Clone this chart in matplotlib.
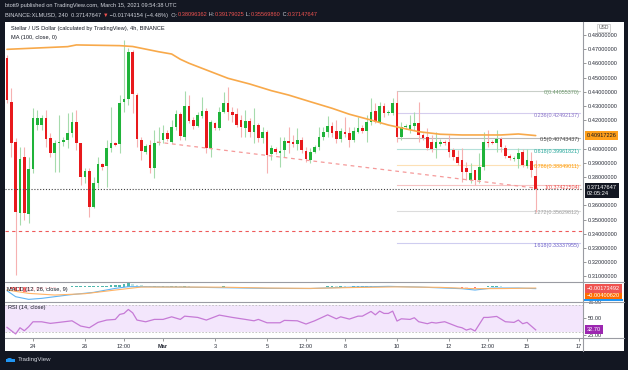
import numpy as np
import pandas as pd
import matplotlib
matplotlib.use('Agg')
import matplotlib.pyplot as plt
import matplotlib.dates as mdates
import matplotlib.transforms as mtransforms
from matplotlib.patches import Rectangle, Circle
from matplotlib.lines import Line2D
from matplotlib.ticker import FormatStrFormatter, FixedLocator

# ---------------- data ----------------
candle_start = '2021-02-23 00:00'
candle_freq = '4h'

opens = [0.4636, 0.4331, 0.4049, 0.3549, 0.3939, 0.3540, 0.3854, 0.4166, 0.4166, 0.4213,
         0.4072, 0.3967, 0.4037, 0.4044, 0.4061, 0.4108, 0.4190, 0.4037, 0.3798, 0.3842,
         0.3591, 0.3755, 0.3892, 0.3877, 0.4002, 0.4037, 0.4032, 0.4326, 0.4349, 0.4678,
         0.4378, 0.4061, 0.3978, 0.4025, 0.3861, 0.4037, 0.4061, 0.4112, 0.4049, 0.4150,
         0.4244, 0.4084, 0.4300, 0.4201, 0.4159, 0.4230, 0.4267, 0.4002, 0.4178, 0.4143,
         0.4260, 0.4324, 0.4260, 0.4241, 0.4201, 0.4143, 0.4197, 0.4119, 0.4164, 0.4072,
         0.4119, 0.3960, 0.3995, 0.3971, 0.3990, 0.4056, 0.4049, 0.4032, 0.4061, 0.3986,
         0.3920, 0.3978, 0.4009, 0.4079, 0.4119, 0.4162, 0.4124, 0.4068, 0.4119, 0.4108,
         0.4061, 0.4119, 0.4143, 0.4126, 0.4185, 0.4265, 0.4190, 0.4300, 0.4248, 0.4248,
         0.4319, 0.4079, 0.4150, 0.4131, 0.4162, 0.4178, 0.4096, 0.4084, 0.4049, 0.4002,
         0.4032, 0.4049, 0.4049, 0.3990, 0.3943, 0.3920, 0.3861, 0.3779, 0.3849, 0.3779,
         0.3868, 0.4049, 0.4049, 0.4042, 0.4065, 0.4002, 0.3948, 0.3925, 0.3925, 0.3978,
         0.3880, 0.3915, 0.38096362]
highs = [0.4660, 0.4424, 0.4072, 0.4014, 0.4014, 0.3943, 0.4284, 0.4272, 0.4237, 0.4272,
         0.4108, 0.4061, 0.4237, 0.4085, 0.4248, 0.4260, 0.4272, 0.4037, 0.3861, 0.3861,
         0.3802, 0.3943, 0.3900, 0.4061, 0.4291, 0.4045, 0.4378, 0.4765, 0.4707, 0.4694,
         0.4389, 0.4084, 0.4030, 0.4061, 0.4131, 0.4155, 0.4166, 0.4131, 0.4202, 0.4272,
         0.4260, 0.4406, 0.4378, 0.4225, 0.4260, 0.4366, 0.4285, 0.4201, 0.4190, 0.4295,
         0.4401, 0.4432, 0.4295, 0.4284, 0.4237, 0.4272, 0.4213, 0.4284, 0.4178, 0.4155,
         0.4131, 0.4025, 0.4010, 0.4084, 0.4084, 0.4155, 0.4096, 0.4143, 0.4084, 0.4014,
         0.4002, 0.4025, 0.4155, 0.4155, 0.4230, 0.4190, 0.4201, 0.4143, 0.4225, 0.4155,
         0.4155, 0.4225, 0.4166, 0.4237, 0.4354, 0.4319, 0.4330, 0.4319, 0.4270, 0.4354,
         0.4406, 0.4190, 0.4170, 0.4237, 0.4260, 0.4330, 0.4110, 0.4143, 0.4096, 0.4119,
         0.4065, 0.4060, 0.4096, 0.4002, 0.3990, 0.4002, 0.3908, 0.3896, 0.3849, 0.3967,
         0.4119, 0.4131, 0.4060, 0.4131, 0.4084, 0.4025, 0.3960, 0.3950, 0.4002, 0.3995,
         0.3995, 0.3978, 0.39179025]
lows = [0.4320, 0.3943, 0.3110, 0.3462, 0.3497, 0.3479, 0.3826, 0.4131, 0.4131, 0.4014,
        0.3943, 0.3838, 0.3838, 0.4020, 0.4002, 0.4084, 0.3990, 0.3744, 0.3755, 0.3521,
        0.3579, 0.3720, 0.3850, 0.3732, 0.3978, 0.4015, 0.3967, 0.4260, 0.4307, 0.4249,
        0.4014, 0.3920, 0.3960, 0.3826, 0.3791, 0.4025, 0.4037, 0.4050, 0.4037, 0.4131,
        0.4061, 0.4061, 0.4178, 0.4140, 0.4150, 0.4213, 0.3967, 0.3943, 0.4130, 0.4131,
        0.4248, 0.4201, 0.4190, 0.4155, 0.4084, 0.4084, 0.4084, 0.4037, 0.4049, 0.4037,
        0.3826, 0.3920, 0.3960, 0.3873, 0.3943, 0.3967, 0.4014, 0.3990, 0.3967, 0.3908,
        0.3896, 0.3967, 0.3990, 0.4061, 0.4084, 0.4084, 0.4037, 0.4049, 0.4084, 0.4014,
        0.4049, 0.4108, 0.4108, 0.4049, 0.4166, 0.4178, 0.4170, 0.4225, 0.4235, 0.4237,
        0.4049, 0.4061, 0.4140, 0.4108, 0.4131, 0.4049, 0.4060, 0.3990, 0.3978, 0.3932,
        0.4020, 0.4025, 0.3943, 0.3920, 0.3885, 0.3767, 0.3779, 0.3756, 0.3742, 0.3756,
        0.3849, 0.4014, 0.4030, 0.3978, 0.3978, 0.3932, 0.3920, 0.3915, 0.3861, 0.3873,
        0.3861, 0.3802, 0.35569860]
closes = [0.4342, 0.4037, 0.3556, 0.3924, 0.3544, 0.3854, 0.4218, 0.4213, 0.4213, 0.4065,
          0.3971, 0.4042, 0.4049, 0.4061, 0.4108, 0.4190, 0.4037, 0.3798, 0.3842, 0.3591,
          0.3755, 0.3892, 0.3868, 0.4002, 0.4037, 0.4025, 0.4324, 0.4349, 0.4683, 0.4385,
          0.4065, 0.3986, 0.4018, 0.3861, 0.4042, 0.4049, 0.4112, 0.4065, 0.4150, 0.4244,
          0.4089, 0.4300, 0.4197, 0.4159, 0.4237, 0.4267, 0.4002, 0.4190, 0.4148, 0.4255,
          0.4324, 0.4260, 0.4237, 0.4166, 0.4155, 0.4194, 0.4119, 0.4166, 0.4072, 0.4115,
          0.3955, 0.4002, 0.3978, 0.3985, 0.4056, 0.4037, 0.4030, 0.4061, 0.3990, 0.3925,
          0.3978, 0.4014, 0.4079, 0.4119, 0.4162, 0.4112, 0.4068, 0.4124, 0.4103, 0.4061,
          0.4124, 0.4143, 0.4126, 0.4185, 0.4260, 0.4190, 0.4300, 0.4248, 0.4255, 0.4319,
          0.4079, 0.4155, 0.4159, 0.4166, 0.4178, 0.4096, 0.4072, 0.4002, 0.3995, 0.4049,
          0.4049, 0.4037, 0.3978, 0.3939, 0.3896, 0.3838, 0.3838, 0.3826, 0.3779, 0.3873,
          0.4049, 0.4037, 0.4042, 0.4065, 0.4009, 0.3948, 0.3932, 0.3932, 0.3971, 0.3885,
          0.3920, 0.3849, 0.37147647]

# MA(100) at a few candles
ma_idx = [0, 14, 16, 26, 29, 35, 38, 40, 42, 47, 51, 56, 61, 65, 70, 75, 79, 84, 88, 95,
          100, 105, 109, 114, 118, 122]
ma_val = [0.4699, 0.4718, 0.4730, 0.4725, 0.4719, 0.4682, 0.4666, 0.4629, 0.4601, 0.4542,
          0.4495, 0.4455, 0.4408, 0.4377, 0.4330, 0.4284, 0.4242, 0.4201, 0.4166, 0.4119,
          0.4101, 0.4096, 0.4096, 0.4096, 0.4103, 0.40917226]

# Fibonacci retracement (anchored at candle 90)
fib_anchor = 90
fib_levels = ['0', '0.236', '0.5', '0.618', '0.786', '1', '1.272', '1.618']
fib_prices = [0.44055370, 0.42492137, 0.40743437, 0.39961821, 0.38849011, 0.37421504,
              0.35629812, 0.33337955]
fib_end = '2021-03-17 00:50'

# trend line and horizontal levels
trend_times = ['2021-02-28 18:30', '2021-03-15 10:00']
trend_prices = [0.4046, 0.3720]
support_level = 0.3420
last_price = 0.37147647
ma_last = 0.40917226
countdown = '02:05:24'

# MACD (12, 26, close, 9)
macd_idx = [0, 2, 5, 8, 14, 20, 25, 28, 33, 45, 60, 70, 80, 88, 95, 105, 108, 112, 118, 122]
macd_val = [-0.012, -0.030, -0.038, -0.035, -0.025, -0.017, -0.005, 0.000, 0.000, -0.002,
            -0.005, -0.0055, -0.001, 0.001, -0.001, -0.006, -0.010, -0.004, -0.004, -0.00574112]
signal_idx = [0, 5, 11, 18, 25, 31, 40, 50, 60, 70, 80, 90, 100, 108, 115, 122]
signal_val = [-0.010, -0.020, -0.025, -0.021, -0.010, -0.001, -0.001, -0.0015, -0.004, -0.005,
              -0.0025, -0.0005, -0.002, -0.006, -0.0055, -0.00400620]
macd_hist = [-0.004, -0.008, -0.012, -0.014, -0.015, -0.015, -0.012, -0.010, -0.008, -0.006,
             -0.005, -0.004, -0.002, -0.001, 0.0005, 0.001, 0.0015, 0.0015, 0.0015, 0.002,
             0.0025, 0.003, 0.003, 0.0035, 0.004, 0.005, 0.006, 0.007, 0.010, 0.009,
             0.006, 0.004, 0.0035, 0.0025, 0.0025, 0.002, 0.002, 0.0015, 0.0015, 0.0015,
             0.001, 0.0015, 0.001, 0.0005, 0.0005, 0.0005, -0.0005, 0.0, 0.0, 0.0005,
             0.001, 0.0005, 0.0003, 0.0, -0.0003, -0.0002, -0.0005, -0.0003, -0.0006, -0.0005,
             -0.0012, -0.001, -0.001, -0.0008, -0.0005, -0.0005, -0.0004, -0.0003, -0.0005, -0.001,
             -0.0008, -0.0005, 0.0, 0.0005, 0.001, 0.001, 0.0008, 0.001, 0.0008, 0.0005,
             0.0008, 0.001, 0.001, 0.0012, 0.002, 0.0018, 0.002, 0.0018, 0.0015, 0.0018,
             0.0005, 0.0003, 0.0002, 0.0001, 0.0002, -0.0003, -0.0005, -0.001, -0.0012, -0.001,
             -0.001, -0.001, -0.0015, -0.0018, -0.002, -0.0025, -0.0025, -0.0023, -0.0025, -0.002,
             0.0, 0.0008, 0.001, 0.0012, 0.0008, 0.0003, 0.0001, 0.0, 0.0001, -0.0004,
             -0.0003, -0.0008, -0.00173492]

# RSI (14, close)
rsi_idx = [0, 2, 3, 4, 5, 6, 8, 10, 12, 15, 17, 19, 21, 23, 25, 26, 27, 28, 29, 30,
           32, 34, 36, 38, 40, 41, 44, 46, 47, 49, 52, 55, 57, 58, 60, 63, 64, 67, 69, 71,
           74, 76, 77, 79, 81, 82, 84, 85, 86, 87, 88, 89, 90, 91, 93, 94, 95, 97, 98, 99,
           101, 102, 104, 105, 106, 107, 108, 110, 111, 113, 115, 117, 118, 119, 120, 122]
rsi_val = [36.5, 26.5, 35.9, 31.4, 37.4, 44.9, 44.9, 42.5, 44.0, 46.4, 38.5, 35.9, 44.0, 47.5,
           48.5, 56.0, 57.5, 63.5, 58.4, 47.5, 44.9, 48.5, 48.5, 52.4, 48.5, 53.4, 51.5, 47.5,
           50.0, 55.0, 51.5, 48.5, 46.4, 48.5, 43.4, 43.4, 47.0, 46.4, 41.5, 46.4, 55.4, 49.4,
           52.4, 49.0, 53.4, 53.4, 60.5, 55.4, 61.0, 57.5, 57.5, 61.0, 46.0, 49.4, 48.5, 51.0,
           45.0, 42.0, 44.0, 43.0, 45.0, 42.5, 37.4, 35.9, 32.4, 34.4, 31.0, 51.5, 51.5, 53.0,
           45.0, 44.0, 47.5, 42.0, 44.0, 32.70]

# time axis labels
time_ticks = ['2021-02-24 00:00', '2021-02-26 00:00', '2021-02-27 12:00', '2021-03-01 00:00',
              '2021-03-03 00:00', '2021-03-05 00:00', '2021-03-06 12:00', '2021-03-08 00:00',
              '2021-03-10 00:00', '2021-03-12 00:00', '2021-03-13 12:00', '2021-03-15 00:00',
              '2021-03-17 00:00']
time_labels = ['24', '26', '12:00', 'Mar', '3', '5', '12:00', '8', '10', '12', '12:00', '15', '17']
price_ticks = [0.31, 0.32, 0.33, 0.34, 0.35, 0.36, 0.38, 0.39, 0.40, 0.42, 0.43, 0.44, 0.45,
               0.46, 0.47, 0.48]
rsi_ticks = [25, 50, 75]

# ---------------- styling / layout ----------------
W, H = 628, 370
plt.rcParams['font.family'] = ['Liberation Sans', 'DejaVu Sans']
DARK = '#131722'
UP, DOWN = '#1fb339', '#e8191c'
UP_W, DOWN_W = '#a6dbad', '#f6b1b1'
FS = 4.1


def to_num(s):
    return mdates.date2num(pd.Timestamp(s).to_pydatetime())


fig = plt.figure(figsize=(W / 100, H / 100), dpi=100, facecolor=DARK)


def frect(x0, y0, x1, y1):
    return [x0 / W, 1 - y1 / H, (x1 - x0) / W, (y1 - y0) / H]


def fpt(x, y):
    return x / W, 1 - y / H


# white panel
fig.patches.append(Rectangle(fpt(5, 351), 619 / W, 329 / H, transform=fig.transFigure,
                             facecolor='white', edgecolor='none', zorder=-5))

X0, X1 = 5, 583
ax = fig.add_axes(frect(X0, 22, X1, 281.5))
axm = fig.add_axes(frect(X0, 281.5, X1, 301.7), sharex=ax)
axr = fig.add_axes(frect(X0, 301.7, X1, 338.3), sharex=ax)
for a in (ax, axm, axr):
    a.set_facecolor('none')
    for s in a.spines.values():
        s.set_visible(False)

times = pd.date_range(candle_start, periods=len(opens), freq=candle_freq)
xs = mdates.date2num(times.to_pydatetime())
o = np.array(opens); h = np.array(highs); l = np.array(lows); c = np.array(closes)
up = c >= o
bw = 0.62 * 4 / 24

ax.vlines(xs, l, h, colors=np.where(up, UP_W, DOWN_W), lw=0.8, zorder=2)
ax.bar(xs, np.maximum(np.abs(c - o), 0.0006), bottom=np.minimum(o, c), width=bw,
       color=np.where(up, UP, DOWN), linewidth=0, zorder=3)

# MA
ax.plot(xs[ma_idx], ma_val, color='#f8a94a', lw=1.2, zorder=4, solid_capstyle='round')

# trend line, support, price line
tt = [to_num(s) for s in trend_times]
ax.plot(tt, trend_prices, color='#f59a9a', lw=0.9, ls=(0, (3, 3)), zorder=4)
ax.axhline(support_level, color='#ee5a5a', lw=0.8, ls=(0, (3, 3)), zorder=4)
ax.axhline(last_price, color='#444444', lw=0.8, ls=(0, (1, 1.6)), zorder=4)

# Fibonacci
fib_line_cols = ['#c9cfc9', '#d5cdee', '#b9b9b9', '#b5e0da', '#fde0b5', '#f6c4c4', '#dcdcdc', '#cfcdf0']
fib_text_cols = ['#6e9a6e', '#8a74c8', '#444444', '#26a69a', '#ff9800', '#ef5350', '#a0a0a0', '#6f62c9']
fx1 = to_num(fib_end)
for lv, p, lc, tc in zip(fib_levels, fib_prices, fib_line_cols, fib_text_cols):
    ax.plot([xs[fib_anchor], fx1], [p, p], color=lc, lw=0.8, zorder=1.5)
    ax.annotate(f'{lv}({p:.8f})', xy=(fx1, p), xytext=(0, -1.4), textcoords='offset points',
                ha='right', va='center', fontsize=3.9, color=tc, zorder=5)

ax.set_xlim(to_num('2021-02-22 22:10'), to_num('2021-03-17 03:40'))
ax.set_ylim(0.30641, 0.48915)
ax.yaxis.tick_right()
ax.yaxis.set_major_locator(FixedLocator(price_ticks))
ax.yaxis.set_major_formatter(FormatStrFormatter('%.8f'))
ax.tick_params(axis='y', length=2, width=0.6, color='#888888', pad=1.6, labelsize=FS,
               labelcolor='#2a2e39')
ax.tick_params(axis='x', bottom=False, labelbottom=False)

# value boxes on the price scale
blend = mtransforms.blended_transform_factory(ax.transAxes, ax.transData)
ax.annotate(f'{ma_last:.8f}', xy=(1, ma_last), xycoords=blend, xytext=(2.6, 0),
            textcoords='offset points', ha='left', va='center', fontsize=FS, color=DARK,
            bbox=dict(boxstyle='square,pad=0.35', fc='#ff9f1a', ec='none'),
            annotation_clip=False, zorder=10)
ax.annotate(f'{last_price:.8f}\n{countdown}', xy=(1, last_price), xycoords=blend,
            xytext=(2.6, 2.6), textcoords='offset points', ha='left', va='top', fontsize=FS,
            color='white', linespacing=1.25,
            bbox=dict(boxstyle='square,pad=0.35', fc=DARK, ec='none'),
            annotation_clip=False, zorder=10)

# MACD pane
axm.set_ylim(-0.045, 0.0156)
hist = np.array(macd_hist)
prev = np.concatenate([[hist[0]], hist[:-1]])
hcols = np.where(hist >= 0, np.where(hist >= prev, '#26a69a', '#b2dfdb'),
                 np.where(hist < prev, '#ff5252', '#ffcdd2'))
axm.bar(xs, hist, width=bw * 0.9, color=hcols, linewidth=0, alpha=0.8)
axm.plot(xs[macd_idx], macd_val, color='#5fb4f5', lw=0.8)
axm.plot(xs[signal_idx], signal_val, color='#ffb366', lw=0.8)
axm.tick_params(axis='both', left=False, bottom=False, labelleft=False, labelbottom=False,
                right=False, labelright=False)
macd_boxes = [(0.33, f'{signal_val[-1]:.8f}', '#ff6d00'),
              (0.66, f'{macd_hist[-1]:.8f}', '#ef5350')]
for yy, txt, col in macd_boxes:
    axm.annotate(txt.replace('-', '\u2212'), xy=(1, yy), xycoords='axes fraction',
                 xytext=(2.6, 0), textcoords='offset points', ha='left', va='center',
                 fontsize=FS, color='white',
                 bbox=dict(boxstyle='square,pad=0.35', fc=col, ec='none'),
                 annotation_clip=False, zorder=10)
axm.text(0.004, 0.6, 'MACD (12, 26, close, 9)', transform=axm.transAxes, fontsize=FS,
         color=DARK, va='center', ha='left')

# RSI pane
axr.set_ylim(20.0, 75.2)
axr.axhspan(30, 70, color='#f3e6fc', lw=0, zorder=0)
axr.axhline(70, color='#bdbdbd', lw=0.6, ls=(0, (2, 2)))
axr.axhline(30, color='#bdbdbd', lw=0.6, ls=(0, (2, 2)))
axr.plot(xs[rsi_idx], rsi_val, color='#c67ad6', lw=0.9, zorder=3)
axr.yaxis.tick_right()
axr.yaxis.set_major_locator(FixedLocator(rsi_ticks))
axr.yaxis.set_major_formatter(FormatStrFormatter('%.2f'))
axr.tick_params(axis='y', length=2, width=0.6, color='#888888', pad=1.6, labelsize=FS,
                labelcolor='#2a2e39')
axr.annotate(f'{rsi_val[-1]:.2f}', xy=(1, rsi_val[-1]),
             xycoords=mtransforms.blended_transform_factory(axr.transAxes, axr.transData),
             xytext=(2.6, 0), textcoords='offset points', ha='left', va='center', fontsize=FS,
             color='white', bbox=dict(boxstyle='square,pad=0.35', fc='#9c27b0', ec='none'),
             annotation_clip=False, zorder=10)
axr.text(0.005, 0.83, 'RSI (14, close)', transform=axr.transAxes, fontsize=FS, color=DARK,
         va='center', ha='left')

tick_x = [to_num(s) for s in time_ticks]
axr.xaxis.set_major_locator(FixedLocator(tick_x))
axr.set_xticklabels(time_labels)
for lab in axr.get_xticklabels():
    if lab.get_text() == 'Mar':
        lab.set_fontweight('bold')
axr.tick_params(axis='x', length=2, width=0.6, color='#888888', pad=1.8, labelsize=FS,
                labelcolor='#2a2e39')

# blue MACD-line marker sliver on the scale (mostly hidden in the reference)
fig.patches.append(Rectangle(fpt(583.5, 301.0), 39.5 / W, 1.8 / H, transform=fig.transFigure,
                             facecolor='#2196f3', edgecolor='none', zorder=5))

# separators / axis lines
SEP = '#9a9ca3'
for yy in (281.5, 301.7, 338.3):
    fig.lines.append(Line2D([5 / W, 624 / W], [1 - yy / H] * 2, transform=fig.transFigure,
                            color=SEP, lw=0.8))
fig.lines.append(Line2D([583 / W] * 2, [1 - 22 / H, 1 - 351 / H], transform=fig.transFigure,
                        color=SEP, lw=0.8))

# USD label
fig.text(*fpt(603.5, 27.5), 'USD', fontsize=3.6, color='#555555', ha='center', va='center',
         bbox=dict(boxstyle='square,pad=0.3', fc='white', ec='#c0c0c0', lw=0.5))

# chart titles
fig.text(*fpt(11, 28.5), 'Stellar / US Dollar (calculated by TradingView), 4h, BINANCE',
         fontsize=FS, color=DARK, ha='left', va='center')
fig.text(*fpt(11, 37.5), 'MA (100, close, 0)', fontsize=FS, color=DARK, ha='left', va='center')

# header
LIGHT = '#d1d4dc'
RED = '#ef5350'
fig.text(*fpt(5, 6), 'btott9 published on TradingView.com, March 15, 2021 09:54:38 UTC',
         fontsize=FS, color=LIGHT, ha='left', va='center')
segments = [('BINANCE:XLMUSD, 240  0.37147647 ', LIGHT), ('\u25bc', RED),
            (' \u22120.01744154 (\u22124.48%)  O:', LIGHT), ('0.38096362', RED),
            (' H:', LIGHT), ('0.39179025', RED), (' L:', LIGHT), ('0.35569860', RED),
            (' C:', LIGHT), ('0.37147647', RED)]
renderer = fig.canvas.get_renderer()
xcur = 5.0
for s, col in segments:
    t = fig.text(*fpt(xcur, 15), s, fontsize=FS, color=col, ha='left', va='center')
    xcur += t.get_window_extent(renderer).width

# footer logo
fig.patches.append(Circle(fpt(9.5, 359.5), 2.6 / W, transform=fig.transFigure,
                          facecolor='#2196f3', edgecolor='none'))
fig.patches.append(Rectangle(fpt(6, 362), 9 / W, 3 / H, transform=fig.transFigure,
                             facecolor='#2196f3', edgecolor='none'))
fig.text(*fpt(18, 360), 'TradingView', fontsize=4.4, color='#d1d4dc', ha='left', va='center')

fig.savefig('out.png', dpi=100, facecolor=DARK)
